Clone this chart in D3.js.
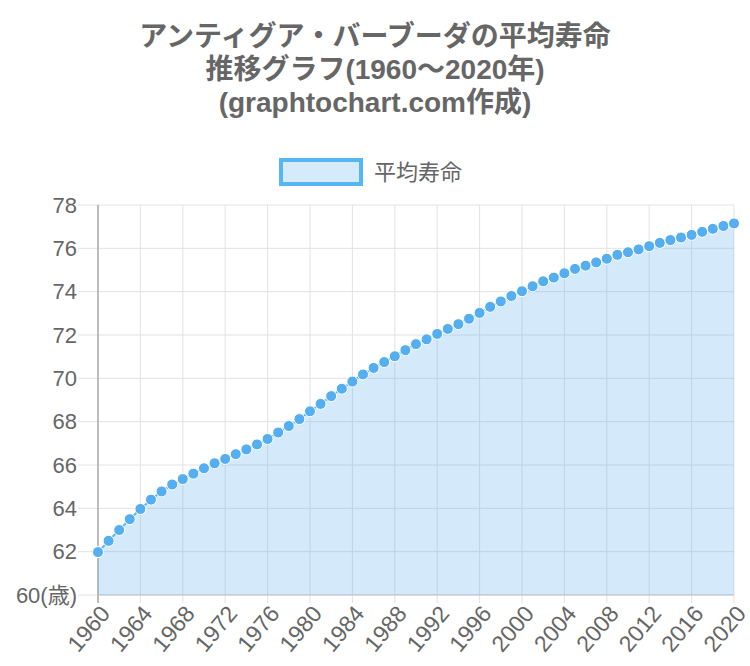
<!DOCTYPE html>
<meta charset="utf-8">
<script src="https://d3js.org/d3.v7.min.js"></script>
<style>
  body { margin: 0; background: #fff; }
  text { font-family: "Liberation Sans", Arial, "Noto Sans CJK JP", sans-serif; }
</style>
<div id="my_dataviz"></div>
<script>

  // data
  var titleLines = ["アンティグア・バーブーダの平均寿命", "推移グラフ(1960〜2020年)", "(graphtochart.com作成)"];
  var seriesName = "平均寿命";
  var years = d3.range(1960, 2021);
  var lifeExp = [
    61.98, 62.50, 63.00, 63.50, 63.97, 64.40, 64.78, 65.10, 65.35, 65.60,
    65.85, 66.08, 66.28, 66.50, 66.72, 66.95, 67.20, 67.50, 67.80, 68.12,
    68.48, 68.82, 69.18, 69.52, 69.85, 70.18, 70.48, 70.75, 71.02, 71.30,
    71.58, 71.80, 72.05, 72.28, 72.50, 72.75, 73.02, 73.30, 73.55, 73.80,
    74.02, 74.25, 74.48, 74.65, 74.85, 75.05, 75.20, 75.35, 75.52, 75.70,
    75.82, 75.95, 76.10, 76.25, 76.38, 76.50, 76.62, 76.76, 76.90, 77.03,
    77.15
  ];
  var yTicks = [60, 62, 64, 66, 68, 70, 72, 74, 76, 78];
  var xTicks = d3.range(1960, 2021, 4);

  var W = 750, H = 666;
  var margin = {top: 205, right: 16, bottom: 71, left: 98};
  var width = W - margin.left - margin.right,
      height = H - margin.top - margin.bottom;

  var svg = d3.select("#my_dataviz")
    .append("svg")
      .attr("width", W)
      .attr("height", H);

  // title
  svg.append("g").selectAll("text")
    .data(titleLines)
    .enter().append("text")
      .attr("x", W / 2)
      .attr("y", function(d, i) { return 46 + i * 33; })
      .attr("text-anchor", "middle")
      .style("font-size", "28px")
      .style("font-weight", "bold")
      .style("fill", "#666")
      .text(function(d) { return d; });

  // legend
  var legend = svg.append("g");
  legend.append("rect")
    .attr("x", 281).attr("y", 160)
    .attr("width", 80).attr("height", 24)
    .style("fill", "#d5ebfb")
    .style("stroke", "#55b6f6")
    .style("stroke-width", 4);
  legend.append("text")
    .attr("x", 374).attr("y", 180)
    .style("font-size", "22px")
    .style("fill", "#666")
    .text(seriesName);

  var g = svg.append("g")
    .attr("transform", "translate(" + margin.left + "," + margin.top + ")");

  var x = d3.scaleLinear().domain([1960, 2020]).range([0, width]);
  var y = d3.scaleLinear().domain([60, 78]).range([height, 0]);

  // horizontal grid + y labels
  g.selectAll(".hgrid")
    .data(yTicks)
    .enter().append("line")
      .attr("x1", -20).attr("x2", width)
      .attr("y1", function(d) { return y(d); })
      .attr("y2", function(d) { return y(d); })
      .style("stroke", "#e2e2e2")
      .style("stroke-width", 1);

  g.selectAll(".ylab")
    .data(yTicks)
    .enter().append("text")
      .attr("x", -21)
      .attr("y", function(d) { return y(d); })
      .attr("dy", "0.35em")
      .attr("text-anchor", "end")
      .style("font-size", "22px")
      .style("fill", "#666")
      .text(function(d, i) { return i === 0 ? d + "(歳)" : d; });

  // vertical grid + x labels
  g.selectAll(".vgrid")
    .data(xTicks)
    .enter().append("line")
      .attr("x1", function(d) { return x(d); })
      .attr("x2", function(d) { return x(d); })
      .attr("y1", 0).attr("y2", height + 8)
      .style("stroke", "#e2e2e2")
      .style("stroke-width", 1);

  g.selectAll(".xlab")
    .data(xTicks)
    .enter().append("text")
      .attr("transform", function(d) {
        return "translate(" + (x(d) + 7) + "," + (height + 14) + ") rotate(-50)";
      })
      .attr("text-anchor", "end")
      .attr("dy", "0.35em")
      .style("font-size", "23px")
      .style("fill", "#666")
      .text(function(d) { return d; });

  // axis lines
  g.append("line")
    .attr("x1", 0).attr("x2", 0).attr("y1", 0).attr("y2", height + 8)
    .style("stroke", "#aaa").style("stroke-width", 1.5);
  g.append("line")
    .attr("x1", 0).attr("x2", width).attr("y1", height).attr("y2", height)
    .style("stroke", "#c8c8c8").style("stroke-width", 1);

  var data = years.map(function(yr, i) { return {year: yr, value: lifeExp[i]}; });

  // area
  g.append("path")
    .datum(data)
    .attr("d", d3.area()
      .x(function(d) { return x(d.year); })
      .y0(y(60))
      .y1(function(d) { return y(d.value); }))
    .style("fill", "rgba(84,172,240,0.25)");

  // line
  g.append("path")
    .datum(data)
    .attr("d", d3.line()
      .x(function(d) { return x(d.year); })
      .y(function(d) { return y(d.value); }))
    .style("fill", "none")
    .style("stroke", "#55b6f6")
    .style("stroke-width", 2);

  // points
  g.selectAll("circle")
    .data(data)
    .enter().append("circle")
      .attr("cx", function(d) { return x(d.year); })
      .attr("cy", function(d) { return y(d.value); })
      .attr("r", 5.5)
      .style("fill", "#55aef0")
      .style("stroke", "#fff")
      .style("stroke-width", 1);

</script>
